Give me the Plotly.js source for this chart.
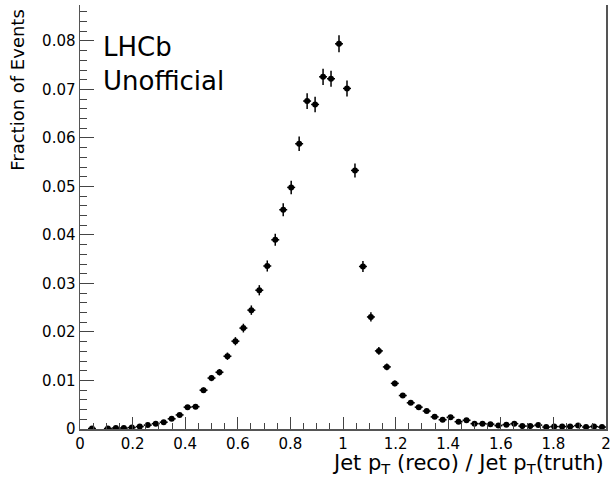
<!DOCTYPE html>
<html>
<head>
<meta charset="utf-8">
<script src="https://cdn.plot.ly/plotly-3.0.1.min.js"></script>
<style>html,body{margin:0;padding:0;background:#fff;}#chart{width:612px;height:478px;}</style>
</head>
<body>
<div id="chart"></div>
<script>
// Bin centres (66 bins from 0 to 2; empty bins omitted)
const binCenters = [0.0455, 0.1061, 0.1364, 0.1667, 0.1970, 0.2273, 0.2576, 0.2879, 0.3182, 0.3485,
  0.3788, 0.4091, 0.4394, 0.4697, 0.5000, 0.5303, 0.5606, 0.5909, 0.6212, 0.6515,
  0.6818, 0.7121, 0.7424, 0.7727, 0.8030, 0.8333, 0.8636, 0.8939, 0.9242, 0.9545,
  0.9848, 1.0152, 1.0455, 1.0758, 1.1061, 1.1364, 1.1667, 1.1970, 1.2273, 1.2576,
  1.2879, 1.3182, 1.3485, 1.3788, 1.4091, 1.4394, 1.4697, 1.5000, 1.5303, 1.5606,
  1.5909, 1.6212, 1.6515, 1.6818, 1.7121, 1.7424, 1.7727, 1.8030, 1.8333, 1.8636,
  1.8939, 1.9242, 1.9545, 1.9848];
const fraction = [0.0001, 0.0001, 0.0002, 0.0002, 0.0003, 0.0005, 0.0008, 0.0011, 0.0014, 0.0021,
  0.0029, 0.0045, 0.0046, 0.0080, 0.0105, 0.0117, 0.0150, 0.0181, 0.0208, 0.0245,
  0.0286, 0.0336, 0.0390, 0.0452, 0.0498, 0.0588, 0.0676, 0.0669, 0.0726, 0.0722,
  0.0794, 0.0702, 0.0533, 0.0335, 0.0231, 0.0161, 0.0128, 0.0094, 0.0069, 0.0054,
  0.0045, 0.0037, 0.0025, 0.0019, 0.0024, 0.0015, 0.0018, 0.0011, 0.0011, 0.0010,
  0.0007, 0.0009, 0.0011, 0.0006, 0.0006, 0.0008, 0.0004, 0.0005, 0.0005, 0.0005,
  0.0007, 0.0004, 0.0005, 0.0004];
const fractionErr = [0.00006, 0.00006, 0.00009, 0.00009, 0.00011, 0.00014, 0.00018, 0.00021, 0.00023, 0.00029,
  0.00034, 0.00042, 0.00042, 0.00056, 0.00064, 0.00067, 0.00076, 0.00084, 0.00090, 0.00097,
  0.00105, 0.00114, 0.00123, 0.00132, 0.00139, 0.00151, 0.00162, 0.00161, 0.00168, 0.00167,
  0.00175, 0.00165, 0.00144, 0.00114, 0.00095, 0.00079, 0.00070, 0.00060, 0.00052, 0.00046,
  0.00042, 0.00038, 0.00031, 0.00027, 0.00030, 0.00024, 0.00026, 0.00021, 0.00021, 0.00020,
  0.00016, 0.00019, 0.00021, 0.00015, 0.00015, 0.00018, 0.00012, 0.00014, 0.00014, 0.00014,
  0.00016, 0.00012, 0.00014, 0.00012];
const halfBinWidth = 0.01515;
const xTitle = 'Jet p<sub>T</sub> (reco) / Jet p<sub>T</sub>(truth)';
const yTitle = 'Fraction of Events';
const labelText = 'LHCb<br>Unofficial';

const font = 'DejaVu Sans, sans-serif';

const trace = {
  type: 'scatter',
  mode: 'markers',
  x: binCenters,
  y: fraction,
  marker: {color: '#000', size: 6, symbol: 'circle'},
  error_y: {type: 'data', array: fractionErr, visible: true, color: '#000', thickness: 1.5, width: 0},
  error_x: {type: 'constant', value: halfBinWidth, visible: true, color: '#000', thickness: 1.5, width: 0},
  hoverinfo: 'x+y'
};

const layout = {
  width: 612, height: 478,
  margin: {l: 80, r: 6, t: 5, b: 49},
  paper_bgcolor: '#fff', plot_bgcolor: '#fff',
  showlegend: false,
  font: {family: font, color: '#000', size: 15},
  xaxis: {
    range: [0, 2], dtick: 0.2, tick0: 0,
    ticks: 'inside', ticklen: 12, tickwidth: 1, tickcolor: '#444',
    minor: {dtick: 0.05, ticks: 'inside', ticklen: 6, tickcolor: '#444'},
    showline: true, linecolor: '#555', linewidth: 1.5, mirror: false,
    showgrid: false, zeroline: false,
    tickfont: {family: font, size: 15, color: '#000'}
  },
  yaxis: {
    range: [0, 0.0874], dtick: 0.01, tick0: 0,
    ticks: 'inside', ticklen: 14, tickwidth: 1, tickcolor: '#444',
    minor: {dtick: 0.002, ticks: 'inside', ticklen: 7, tickcolor: '#444'},
    showline: true, linecolor: '#555', linewidth: 1.5, mirror: true,
    showgrid: false, zeroline: false,
    tickfont: {family: font, size: 15, color: '#000'}
  },
  annotations: [
    {text: labelText, xref: 'paper', yref: 'paper', x: 0.039, y: 0.942,
     xanchor: 'left', yanchor: 'top', align: 'left', showarrow: false,
     font: {family: font, size: 26, color: '#000'}},
    {text: xTitle, xref: 'paper', yref: 'paper', x: 1.0, y: -0.118,
     xanchor: 'right', yanchor: 'bottom', showarrow: false,
     font: {family: font, size: 21, color: '#000'}},
    {text: yTitle, xref: 'paper', yref: 'paper', x: -0.1179, y: 0.80,
     xanchor: 'center', yanchor: 'middle', textangle: -90, showarrow: false,
     font: {family: font, size: 18, color: '#000'}}
  ]
};

Plotly.newPlot('chart', [trace], layout, {displayModeBar: false, staticPlot: true});
</script>
</body>
</html>
